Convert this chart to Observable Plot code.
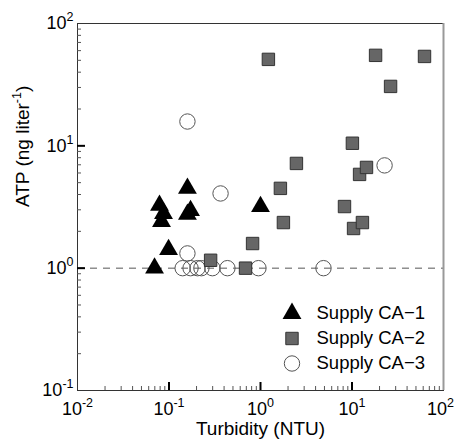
<!DOCTYPE html>
<html>
<head>
<meta charset="utf-8">
<script src="https://cdn.jsdelivr.net/npm/d3@7"></script>
<script src="https://cdn.jsdelivr.net/npm/@observablehq/plot@0.6"></script>
<style>
  html, body { margin: 0; padding: 0; background: #fff; }
  #chart svg { display: block; }
</style>
</head>
<body>
<div id="chart"></div>
<script>
// ---- data ----
const xDomain = [0.01, 100];
const yDomain = [0.1, 100];
const xTicks = [0.01, 0.1, 1, 10, 100];
const xTickLabels = ["10^{-2}", "10^{-1}", "10^{0}", "10^{1}", "10^{2}"];
const yTicks = [0.1, 1, 10, 100];
const yTickLabels = ["10^{-1}", "10^{0}", "10^{1}", "10^{2}"];
const xTitle = "Turbidity (NTU)";
const yTitle = "ATP (ng liter^{-1})";
const seriesNames = ["Supply CA−1", "Supply CA−2", "Supply CA−3"];
const refLine = [1];

const ca1X = [0.159, 0.0787, 0.0871, 0.0828, 0.172, 0.159, 0.0989, 0.0695, 1.0];
const ca1Y = [4.49, 3.26, 2.80, 2.41, 2.96, 2.75, 1.42, 1.0, 3.19];

const ca2X = [1.22, 18.1, 62, 26.4, 10.1, 2.47, 12.1, 14.4, 1.65, 8.28, 1.78, 10.4, 13.0, 0.819, 0.686, 0.285];
const ca2Y = [50.9, 54.9, 53.8, 30.6, 10.5, 7.18, 5.84, 6.66, 4.49, 3.19, 2.36, 2.11, 2.36, 1.59, 1.0, 1.16];

const ca3X = [0.159, 0.366, 22.7, 0.159, 0.141, 0.172, 0.205, 0.226, 0.298, 0.435, 0.95, 4.88];
const ca3Y = [15.8, 4.08, 6.92, 1.32, 1, 1, 1, 1, 1, 1, 1, 1];

// ---- layout ----
const W = 455, H = 439;
const mL = 77, mR = 12, mT = 23, mB = 49;
const plotW = W - mL - mR, plotH = H - mT - mB;
const font = "'Liberation Sans', Arial, sans-serif";

const toRows = (xs, ys) => xs.map((x, i) => ({x, y: ys[i]}));
const ca1 = toRows(ca1X, ca1Y), ca2 = toRows(ca2X, ca2Y), ca3 = toRows(ca3X, ca3Y);

const styles = [
  {symbol: "triangle", r: 7, fill: "#000", stroke: "none"},
  {symbol: "square", r: 7, fill: "#666", stroke: "#333", strokeWidth: 1},
  {symbol: "circle", r: 7.7, fill: "none", stroke: "#555", strokeWidth: 1}
];

// axis tick positions (major interior + minor)
const xMajorInner = xTicks.slice(1, -1);
const yMajorInner = yTicks.slice(1, -1);
const minorOf = ([lo, hi]) => {
  const out = [];
  for (let e = Math.round(Math.log10(lo)); e < Math.round(Math.log10(hi)); e++)
    for (let k = 2; k <= 9; k++) out.push(k * Math.pow(10, e));
  return out;
};
const xMinor = minorOf(xDomain), yMinor = minorOf(yDomain);
const xLab = new Map(xTicks.map((t, i) => [t, xTickLabels[i]]));
const yLab = new Map(yTicks.map((t, i) => [t, yTickLabels[i]]));

const legendMarks = seriesNames.flatMap((name, i) => [
  Plot.dot([name], {frameAnchor: "top-left", dx: 214.5, dy: 290 + 25 * i, ...styles[i]}),
  Plot.text([name], {text: d => d, frameAnchor: "top-left", dx: 239, dy: 290 + 25 * i,
    textAnchor: "start", lineAnchor: "middle", fontSize: 18.5, fill: "#000"})
]);

const chart = Plot.plot({
  width: W, height: H,
  marginLeft: mL, marginRight: mR, marginTop: mT, marginBottom: mB,
  style: {fontFamily: font, fontSize: "18px", background: "#fff", color: "#000"},
  x: {type: "log", domain: xDomain},
  y: {type: "log", domain: yDomain},
  marks: [
    Plot.ruleY(refLine, {stroke: "#555", strokeWidth: 1, strokeDasharray: "7,6"}),
    Plot.frame({stroke: "#333", strokeWidth: 1}),
    Plot.ruleX([xDomain[1]], {stroke: "#999", strokeWidth: 2}),
    // inward ticks
    Plot.tickX(xMinor, {x: d => d, insetTop: plotH - 4, stroke: "#555", strokeWidth: 1}),
    Plot.tickX(xMajorInner, {x: d => d, insetTop: plotH - 8, stroke: "#000", strokeWidth: 2}),
    Plot.tickY(yMinor, {y: d => d, insetRight: plotW - 4, stroke: "#555", strokeWidth: 1}),
    Plot.tickY(yMajorInner, {y: d => d, insetRight: plotW - 8, stroke: "#000", strokeWidth: 2}),
    Plot.axisX({ticks: xTicks, tickFormat: d => xLab.get(d), tickSize: 0, tickPadding: 12, label: null, fontSize: 18}),
    Plot.axisY({ticks: yTicks, tickFormat: d => yLab.get(d), tickSize: 0, tickPadding: 4, label: null, fontSize: 18}),
    Plot.text([xTitle], {text: d => d, frameAnchor: "bottom", dy: 38, lineAnchor: "middle", fontSize: 19, fill: "#000"}),
    Plot.text([yTitle], {text: d => d, frameAnchor: "left", dx: -55, rotate: -90, lineAnchor: "middle", fontSize: 19, fill: "#000"}),
    // data
    Plot.dot(ca3, {x: "x", y: "y", ...styles[2]}),
    Plot.dot(ca2, {x: "x", y: "y", ...styles[1]}),
    Plot.dot(ca1, {x: "x", y: "y", ...styles[0]}),
    ...legendMarks
  ]
});

// superscript post-processing: "^{...}"
d3.select(chart).selectAll("text").each(function () {
  const t = this.textContent;
  if (!t.includes("^{")) return;
  const el = d3.select(this);
  const parts = t.split(/(\^\{[^}]*\})/).filter(s => s.length);
  el.text(null);
  let raised = false;
  const shift = 8;
  parts.forEach(p => {
    const m = p.match(/^\^\{([^}]*)\}$/);
    if (m) {
      el.append("tspan").attr("dy", -shift).style("font-size", "12.5px").text(m[1]);
      raised = true;
    } else {
      const ts = el.append("tspan").text(p);
      if (raised) { ts.attr("dy", shift); raised = false; }
    }
  });
});

// keep the last x tick label inside the picture
const xLabels = d3.select(chart).selectAll('g[aria-label="x-axis tick label"] text').nodes();
if (xLabels.length) d3.select(xLabels[xLabels.length - 1]).attr("dx", -3);

document.getElementById("chart").appendChild(chart);
</script>
</body>
</html>
